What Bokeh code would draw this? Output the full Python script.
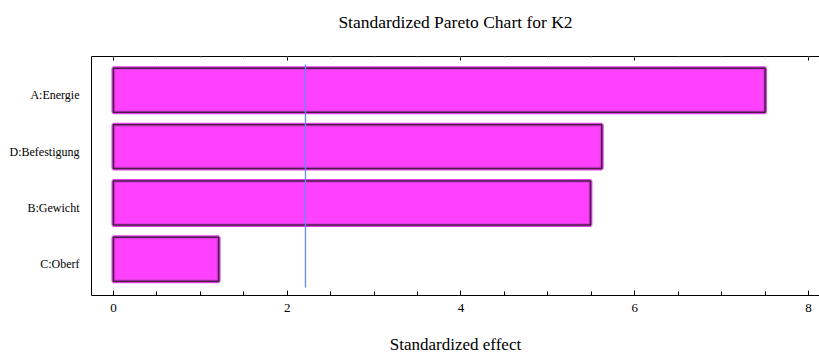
from bokeh.plotting import figure
from bokeh.models import (Range1d, LinearAxis, SingleIntervalTicker, FixedTicker,
                          ColumnDataSource)
from bokeh.embed import file_html
from bokeh.resources import INLINE

# ---- data ----
effect_names = ["A:Energie", "D:Befestigung", "B:Gewicht", "C:Oberf"]
effect_values = [7.50, 5.62, 5.49, 1.21]
t_critical = 2.21
title_text = "Standardized Pareto Chart for K2"
x_label = "Standardized effect"

n = len(effect_names)
positions = [n - i for i in range(n)]
src = ColumnDataSource(dict(y=positions, right=effect_values, name=effect_names))

FONT = "Liberation Serif"
LABEL_SHIFT = 0.09  # draw category labels slightly below bar centre, as in reference

p = figure(width=819, height=356, output_backend="svg", toolbar_location=None,
           x_range=Range1d(-0.253, 8.127), y_range=Range1d(0.357, 4.6),
           min_border_left=91, min_border_right=0, min_border_top=56,
           min_border_bottom=61)
p.background_fill_color = "white"
p.border_fill_color = "white"
p.outline_line_color = None
p.grid.visible = False

# bars: outer magenta rim, then dark edge
p.hbar(y="y", right="right", left=0, height=0.78, source=src,
       fill_color="#ff40ff", line_color="#e03ee0", line_width=4)
p.hbar(y="y", right="right", left=0, height=0.78, source=src,
       fill_alpha=0, line_color="#4a1c4a", line_width=1.5)

# critical value line
p.segment(x0=[t_critical], x1=[t_critical], y0=[0.5], y1=[4.46],
          line_color="#6a86ff", line_width=1.3)

# bottom axis
xa = p.xaxis[0]
xa.ticker = SingleIntervalTicker(interval=2, num_minor_ticks=4)
xa.axis_label = x_label
xa.axis_label_text_font = FONT
xa.axis_label_text_font_size = "17px"
xa.axis_label_text_font_style = "normal"
xa.axis_label_text_color = "black"
xa.axis_label_standoff = 20
xa.major_label_text_font = FONT
xa.major_label_text_font_size = "13px"
xa.major_label_text_color = "black"
xa.major_label_standoff = 8
xa.major_tick_in = 5
xa.major_tick_out = 0
xa.minor_tick_in = 4
xa.minor_tick_out = 0
xa.axis_line_color = "black"
xa.major_tick_line_color = "black"
xa.minor_tick_line_color = "black"

# top axis: inward ticks, and the chart title as its label
ta = LinearAxis(ticker=SingleIntervalTicker(interval=2, num_minor_ticks=4))
ta.major_label_text_font_size = "0px"
ta.major_label_standoff = 0
ta.major_tick_in = 4
ta.major_tick_out = 0
ta.minor_tick_in = 1
ta.minor_tick_out = 0
ta.minor_tick_line_color = "#888888"
ta.axis_line_color = "black"
ta.axis_label = title_text
ta.axis_label_text_font = FONT
ta.axis_label_text_font_size = "17.5px"
ta.axis_label_text_font_style = "normal"
ta.axis_label_text_color = "black"
ta.axis_label_standoff = 25
p.add_layout(ta, "above")

# left axis (category labels)
label_pos = [round(pos - LABEL_SHIFT, 2) for pos in positions]
ya = p.yaxis[0]
ya.ticker = FixedTicker(ticks=label_pos)
ya.major_label_overrides = {lp: nm for lp, nm in zip(label_pos, effect_names)}
ya.major_label_text_font = FONT
ya.major_label_text_font_size = "12px"
ya.major_label_text_color = "black"
ya.major_label_standoff = 12
ya.major_tick_in = 0
ya.major_tick_out = 0
ya.minor_tick_in = 0
ya.minor_tick_out = 0
ya.axis_line_color = "black"

open("out.html", "w").write(file_html(p, INLINE))
